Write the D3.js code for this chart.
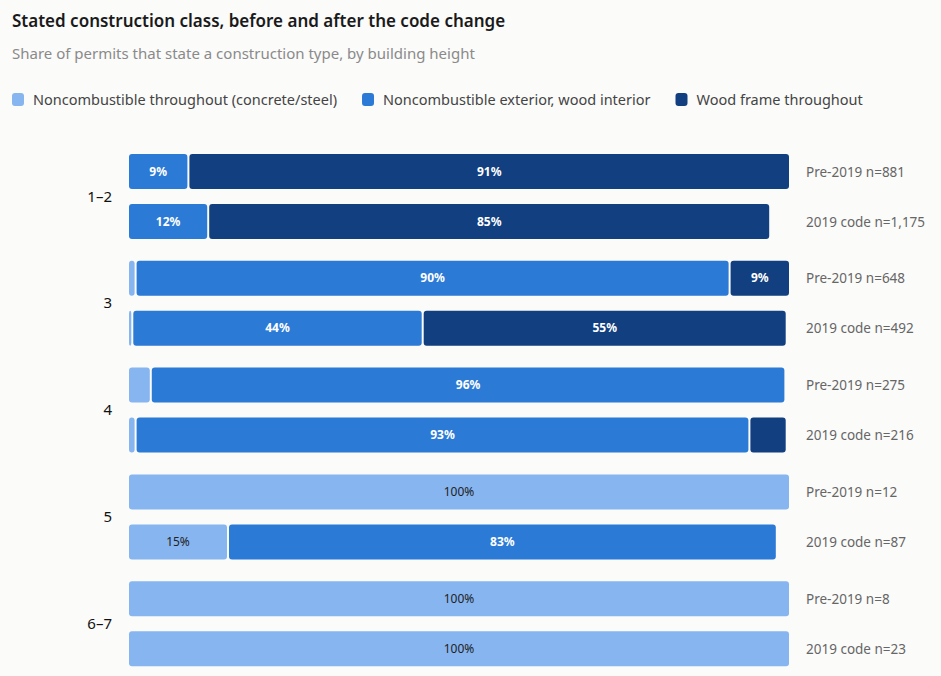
<!DOCTYPE html>
<html><head><meta charset="utf-8">
<script src="https://cdn.jsdelivr.net/npm/d3@7"></script>
<style>
body{margin:0;background:#fbfbfa;font-family:"Noto Sans",sans-serif;}
</style></head>
<body><svg></svg>
<script>
const heights = ['1–2', '3', '4', '5', '6–7'];
const periods = ['Pre-2019', '2019 code'];
const counts = [['881', '1,175'], ['648', '492'], ['275', '216'], ['12', '87'], ['8', '23']];
const seriesNames = ['Noncombustible throughout (concrete/steel)', 'Noncombustible exterior, wood interior', 'Wood frame throughout'];
// [light, mid, dark] per row: pre, 2019
const shares = [
  [[0, 9, 91], [0, 12, 85]],
  [[1, 90, 9], [0.5, 44, 55]],
  [[3.3, 96, 0], [1, 93, 5.5]],
  [[100, 0, 0], [15, 83, 0]],
  [[100, 0, 0], [100, 0, 0]]
];
const colors = ['#86b5ef', '#2b7ad6', '#113f80'];
const textColors = ['#222', '#fff', '#fff'];

const svg = d3.select('svg').attr('width', 941).attr('height', 676);

svg.append('text').attr('x', 12).attr('y', 27).text('Stated construction class, before and after the code change')
  .attr('font-size', 17).attr('font-weight', 600).attr('fill', '#1a1a1a');
svg.append('text').attr('x', 12).attr('y', 59).text('Share of permits that state a construction type, by building height')
  .attr('font-size', 15).attr('fill', '#8a8a8a');

// legend
let lx = 12;
seriesNames.forEach((s, i) => {
  const g = svg.append('g').attr('transform', `translate(${lx},100)`);
  g.append('rect').attr('x', 0).attr('y', -7).attr('width', 12).attr('height', 13).attr('rx', 3).attr('fill', colors[i]);
  const t = g.append('text').attr('x', 21).attr('y', 5).text(s).attr('font-size', 14.5).attr('fill', '#444');
  lx += 21 + t.node().getComputedTextLength() + 25;
});

const x = d3.scaleLinear().domain([0, 100]).range([129, 789]);
const yGroup = d3.scaleBand().domain(heights).range([143, 677]).padding(0);
const yRow = d3.scaleBand().domain(periods).range([11, 96]).paddingInner(0.3);

const groups = svg.selectAll('g.grp').data(heights).join('g').attr('class', 'grp')
  .attr('transform', d => `translate(0,${yGroup(d)})`);

groups.append('text').attr('x', 112).attr('y', (yRow.range()[0] + yRow.range()[1]) / 2 + 5)
  .attr('text-anchor', 'end').attr('font-size', 15).attr('fill', '#111').text(d => d);

groups.each(function(h, gi) {
  const g = d3.select(this);
  periods.forEach((p, pi) => {
    const vals = shares[gi][pi];
    let cum = 0;
    const segs = vals.map((v, i) => { const s = {v, i, start: cum}; cum += v; return s; }).filter(s => s.v > 0);
    const y0 = yRow(p), bh = yRow.bandwidth();
    segs.forEach((s, k) => {
      const x0 = x(s.start) + (k > 0 ? 1 : 0);
      const w = Math.max(2, x(s.start + s.v) - x(s.start) - (k > 0 ? 1 : 0) - (k < segs.length - 1 ? 1 : 0));
      g.append('rect').attr('x', x0).attr('y', y0).attr('width', w).attr('height', bh)
        .attr('rx', 3).attr('fill', colors[s.i]);
      if (s.v >= 8) {
        g.append('text').attr('x', x0 + w / 2).attr('y', y0 + bh / 2 + 4).attr('text-anchor', 'middle')
          .attr('font-size', 12).attr('font-weight', s.i ? 700 : 400).attr('fill', textColors[s.i])
          .text(Math.round(s.v) + '%');
      }
    });
    g.append('text').attr('x', 806).attr('y', y0 + bh / 2 + 5).attr('font-size', 13.5).attr('fill', '#666')
      .text(`${p} n=${counts[gi][pi]}`);
  });
});
</script></body></html>
